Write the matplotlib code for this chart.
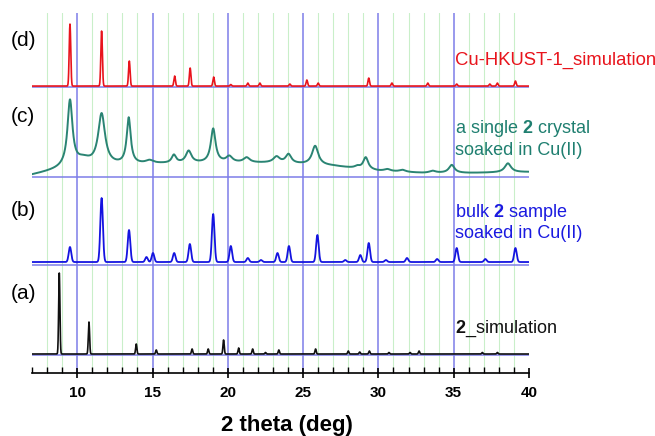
import numpy as np
import matplotlib
matplotlib.use("Agg")
import matplotlib.pyplot as plt
from matplotlib.ticker import MultipleLocator

plt.rcParams['font.family'] = ['Liberation Sans', 'DejaVu Sans']
plt.rcParams['mathtext.fontset'] = 'custom'
plt.rcParams['mathtext.rm'] = 'Liberation Sans'
plt.rcParams['mathtext.bf'] = 'Liberation Sans:bold'

# ---- data (2theta, peak height in arbitrary units) ----
# (d) Cu-HKUST-1 simulation
d_pos = [9.52, 11.62, 13.46, 16.47, 17.5, 19.06, 20.2, 21.33, 22.13, 24.12, 25.25, 26.0,
         29.36, 30.9, 33.28, 35.2, 37.4, 37.9, 39.1]
d_hgt = [62, 55, 25, 10, 18, 9, 1.5, 3, 3, 2, 6, 3, 8, 3, 3, 2, 2, 3, 5]
d_wid = 0.12

# (c) single crystal soaked in Cu(II)
c_pos = [9.52, 10.4, 11.62, 13.42, 14.8, 16.42, 17.4, 19.03, 20.1, 21.25, 23.24, 24.03, 25.8,
         28.6, 29.16, 30.6, 31.6, 33.6, 34.87, 38.6]
c_hgt = [66, 7, 51, 46, 3, 8, 12, 34, 6, 5, 6, 9, 19, 2, 12, 2, 2, 2, 8, 9]
c_wid = [0.4, 1.2, 0.55, 0.32, 0.6, 0.35, 0.45, 0.38, 0.5, 0.5, 0.5, 0.45, 0.5,
         0.4, 0.4, 0.5, 0.5, 0.5, 0.45, 0.5]
c_bg_x = [7, 9, 12, 15, 20, 23, 27, 30, 33, 36, 40]
c_bg_y = [198, 204, 207, 209, 210, 210, 207, 202, 200, 200, 201]

# (b) bulk sample soaked in Cu(II)
b_pos = [9.52, 11.62, 13.44, 14.6, 15.03, 16.44, 17.48, 19.03, 20.2, 21.33, 22.2, 23.3,
         24.06, 25.95, 27.8, 28.8, 29.36, 30.5, 31.9, 33.9, 35.2, 37.1, 39.1]
b_hgt = [15, 64, 32, 5, 9, 9, 18, 48, 16, 4, 2, 9, 16, 27, 2, 7, 19, 2, 4, 3, 14, 3, 14]
b_wid = 0.2

# (a) 2 simulation
a_pos = [8.81, 10.78, 13.92, 15.25, 17.63, 18.7, 19.72, 20.72, 21.65, 22.5, 23.39, 25.83,
         28.0, 28.76, 29.4, 30.7, 32.1, 32.7, 36.9, 37.9]
a_hgt = [81, 32, 10, 4, 5, 5, 14, 6, 5, 1.5, 4, 5, 3, 2, 3, 1.5, 1.5, 3, 1.5, 1.5]
a_wid = 0.1

offsets = {'a': 19, 'b': 111, 'd': 287}
hlines = [18, 108, 196, 286]

x = np.linspace(7, 40, 3301)


def gauss_pattern(pos, hgt, wid):
    y = np.zeros_like(x)
    for p, h in zip(pos, hgt):
        s = wid / 2.355
        y += h * np.exp(-0.5 * ((x - p) / s) ** 2)
    return y


def lorentz_pattern(pos, hgt, wid):
    y = np.zeros_like(x)
    for p, h, w in zip(pos, hgt, wid):
        g = w / 2
        y += h * g ** 2 / ((x - p) ** 2 + g ** 2)
    return y


yd = offsets['d'] + gauss_pattern(d_pos, d_hgt, d_wid)
yc = np.interp(x, c_bg_x, c_bg_y) + lorentz_pattern(c_pos, c_hgt, c_wid)
yb = offsets['b'] + gauss_pattern(b_pos, b_hgt, b_wid)
ya = offsets['a'] + gauss_pattern(a_pos, a_hgt, a_wid)

fig = plt.figure(figsize=(6.55, 4.36), dpi=100)
ax = fig.add_axes([0.0489, 0.1445, 0.7587, 0.8255])
ax.set_xlim(7, 40)
ax.set_ylim(0, 360)

minor_col = '#c9efc9'
major_col = '#7d7de8'
for xv in range(8, 40):
    if xv % 5 != 0:
        ax.axvline(xv, color=minor_col, lw=0.8, zorder=0)
for xv in range(10, 40, 5):
    ax.axvline(xv, color=major_col, lw=1.1, zorder=1)
for hv in hlines:
    ax.axhline(hv, color=major_col, lw=1.1, zorder=1)

ax.plot(x, yd, color='#e8141c', lw=1.2, zorder=3)
ax.plot(x, yc, color='#2a8473', lw=1.4, zorder=3)
ax.plot(x, yb, color='#1414e0', lw=1.3, zorder=3)
ax.plot(x, ya, color='#111111', lw=1.2, zorder=3)

for s in ['left', 'right', 'top']:
    ax.spines[s].set_visible(False)
ax.spines['bottom'].set_linewidth(1.2)
ax.set_yticks([])
ax.xaxis.set_major_locator(MultipleLocator(5))
ax.xaxis.set_minor_locator(MultipleLocator(1))
ax.tick_params(axis='x', which='major', direction='inout', length=7, width=1.2,
               labelsize=11, pad=6)
ax.tick_params(axis='x', which='minor', direction='in', length=4, width=1.0)
ax.set_xticks([10, 15, 20, 25, 30, 35, 40])
ax.set_xticklabels(['10', '15', '20', '25', '30', '35', '40'], fontweight='bold')
ax.set_xlabel('2 theta (deg)', fontsize=16, fontweight='bold')
ax.xaxis.set_label_coords(0.513, -0.118)

tx = 35.07
ax.text(tx, 313, 'Cu-HKUST-1_simulation', color='#e8141c', fontsize=13.3,
        va='center', ha='left', clip_on=False)
ax.text(tx, 245, r'a single $\mathbf{2}$ crystal', color='#1f7f70', fontsize=13,
        va='center', ha='left', clip_on=False)
ax.text(tx, 223, 'soaked in Cu(II)', color='#1f7f70', fontsize=13,
        va='center', ha='left', clip_on=False)
ax.text(tx, 161, r'bulk $\mathbf{2}$ sample', color='#1a1ae0', fontsize=13,
        va='center', ha='left', clip_on=False)
ax.text(tx, 140, 'soaked in Cu(II)', color='#1a1ae0', fontsize=13,
        va='center', ha='left', clip_on=False)
ax.text(tx, 44, r'$\mathbf{2}$_simulation', color='#111111', fontsize=13,
        va='center', ha='left', clip_on=False)

for lab, ypx in [('(d)', 40), ('(c)', 117), ('(b)', 210), ('(a)', 293)]:
    fig.text(11 / 655, 1 - ypx / 436, lab, fontsize=15, va='center', ha='left')

fig.savefig('out.png', dpi=100)
